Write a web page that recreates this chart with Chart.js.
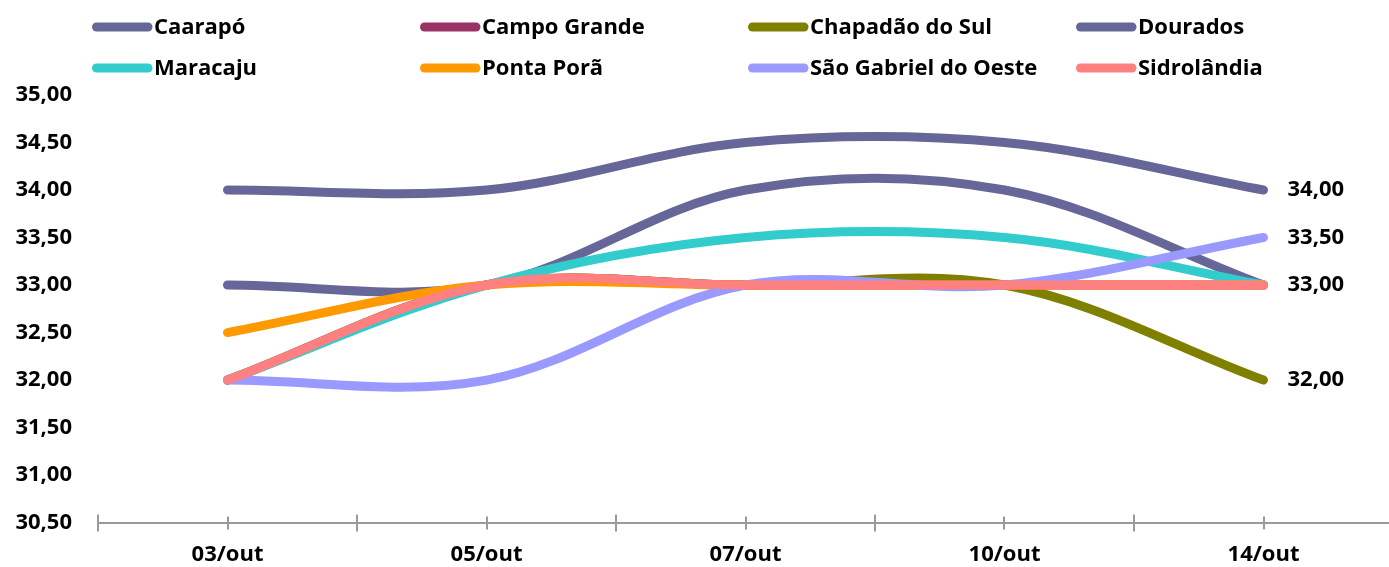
<!DOCTYPE html>
<html>
<head>
<meta charset="utf-8">
<script src="https://cdn.jsdelivr.net/npm/chart.js@4.4.0/dist/chart.umd.min.js"></script>
<style>
  html, body { margin: 0; padding: 0; background: #fff; overflow: hidden; }
  #wrap { width: 1389px; height: 567px; overflow: hidden; }
</style>
</head>
<body>
<div id="wrap"><canvas id="myChart" width="1403" height="567"></canvas></div>
<script>
const labels = ['03/out', '05/out', '07/out', '10/out', '14/out'];

const seriesNames = ['Caarapó', 'Campo Grande', 'Chapadão do Sul', 'Dourados',
    'Maracaju', 'Ponta Porã', 'São Gabriel do Oeste', 'Sidrolândia'];
const seriesColors = ['#666699', '#993366', '#808000', '#666699',
    '#33CCCC', '#FF9900', '#9999FF', '#FF8080'];

const caarapo = [34.0, 34.0, 34.5, 34.5, 34.0];
const campoGrande = [32.0, 33.0, 33.0, 33.0, 33.0];
const chapadao = [32.0, 33.0, 33.0, 33.0, 32.0];
const dourados = [33.0, 33.0, 34.0, 34.0, 33.0];
const maracaju = [32.0, 33.0, 33.5, 33.5, 33.0];
const pontaPora = [32.5, 33.0, 33.0, 33.0, 33.0];
const saoGabriel = [32.0, 32.0, 33.0, 33.0, 33.5];
const sidrolandia = [32.0, 33.0, 33.0, 33.0, 33.0];

const seriesValues = [caarapo, campoGrande, chapadao, dourados,
    maracaju, pontaPora, saoGabriel, sidrolandia];

const yMin = 30.5, yMax = 35.0, yStep = 0.5;

const FONT = "'Open Sans', 'Liberation Sans', sans-serif";
const FONT_SIZE = 22;
const AXIS_GRAY = '#9a9a9a';
const fmt = v => v.toFixed(2).replace('.', ',');

const datasets = seriesNames.map((name, i) => ({
    label: name,
    data: seriesValues[i].map((v, j) => ({ x: j, y: v })),
    borderColor: seriesColors[i],
    backgroundColor: seriesColors[i],
    borderWidth: 9,
    borderCapStyle: 'round',
    borderJoinStyle: 'round',
    pointRadius: 0,
    tension: 0.35,
    fill: false,
    order: seriesNames.length - i
}));

// legend in 4 even columns, drawn on the canvas
const legendPlugin = {
    id: 'gridLegend',
    afterDraw(chart) {
        const c = chart.ctx;
        c.save();
        c.font = 'bold ' + FONT_SIZE + 'px ' + FONT;
        c.textBaseline = 'middle';
        c.textAlign = 'left';
        chart.data.datasets.forEach((ds, i) => {
            const col = i % 4, row = Math.floor(i / 4);
            const x = 92 + col * 328;
            const y = 27 + row * 41;
            c.strokeStyle = ds.borderColor;
            c.lineWidth = 9;
            c.lineCap = 'round';
            c.beginPath();
            c.moveTo(x + 4.5, y);
            c.lineTo(x + 56, y);
            c.stroke();
            c.fillStyle = '#000';
            c.fillText(ds.label, x + 62, y + 1);
        });
        c.restore();
    }
};

// tick marks that cross the x axis line
const xTickPlugin = {
    id: 'xTicks',
    afterDraw(chart) {
        const xs = chart.scales.x;
        const c = chart.ctx;
        const y0 = xs.top;
        c.save();
        c.strokeStyle = AXIS_GRAY;
        c.lineWidth = 2;
        xs.ticks.forEach(t => {
            const px = Math.round(xs.getPixelForValue(t.value));
            const major = !Number.isInteger(t.value);
            c.beginPath();
            c.moveTo(px, y0 - (major ? 8 : 6));
            c.lineTo(px, y0 + (major ? 9 : 7));
            c.stroke();
        });
        c.restore();
    }
};

// value labels at the last point of every series (one per value)
const endLabelPlugin = {
    id: 'endLabels',
    afterDatasetsDraw(chart) {
        const c = chart.ctx;
        const done = new Set();
        c.save();
        c.font = 'bold ' + FONT_SIZE + 'px ' + FONT;
        c.textBaseline = 'middle';
        c.textAlign = 'left';
        c.fillStyle = '#000';
        chart.data.datasets.forEach((ds, i) => {
            const meta = chart.getDatasetMeta(i);
            const pt = meta.data[meta.data.length - 1];
            const v = ds.data[ds.data.length - 1].y;
            if (done.has(v)) return;
            done.add(v);
            c.fillText(fmt(v), pt.x + 24, pt.y);
        });
        c.restore();
    }
};

const ctx = document.getElementById('myChart').getContext('2d');
const myChart = new Chart(ctx, {
    type: 'line',
    data: { datasets: datasets },
    plugins: [legendPlugin, xTickPlugin, endLabelPlugin],
    options: {
        responsive: false,
        animation: false,
        layout: { padding: { top: 95, right: 0, bottom: -11, left: 0 } },
        plugins: {
            legend: { display: false },
            tooltip: { enabled: false }
        },
        scales: {
            x: {
                type: 'linear',
                min: -0.5,
                max: labels.length - 0.5,
                afterBuildTicks(scale) {
                    const t = [];
                    for (let v = -0.5; v <= labels.length - 0.5 + 1e-9; v += 0.5) t.push({ value: v });
                    scale.ticks = t;
                },
                grid: {
                    drawOnChartArea: false,
                    drawTicks: true,
                    tickLength: 9,
                    color: 'rgba(0,0,0,0)'
                },
                border: { display: true, color: AXIS_GRAY, width: 2 },
                ticks: {
                    autoSkip: false,
                    maxRotation: 0,
                    padding: 10,
                    color: '#000',
                    font: { family: FONT, size: FONT_SIZE, weight: 'bold' },
                    callback: v => Number.isInteger(v) ? labels[v] : ''
                }
            },
            y: {
                min: yMin,
                max: yMax,
                afterFit(scale) { scale.width = 98; },
                grid: { display: false },
                border: { display: false },
                ticks: {
                    stepSize: yStep,
                    padding: 18,
                    color: '#000',
                    font: { family: FONT, size: FONT_SIZE, weight: 'bold' },
                    callback: v => fmt(v)
                }
            }
        }
    }
});
</script>
</body>
</html>
